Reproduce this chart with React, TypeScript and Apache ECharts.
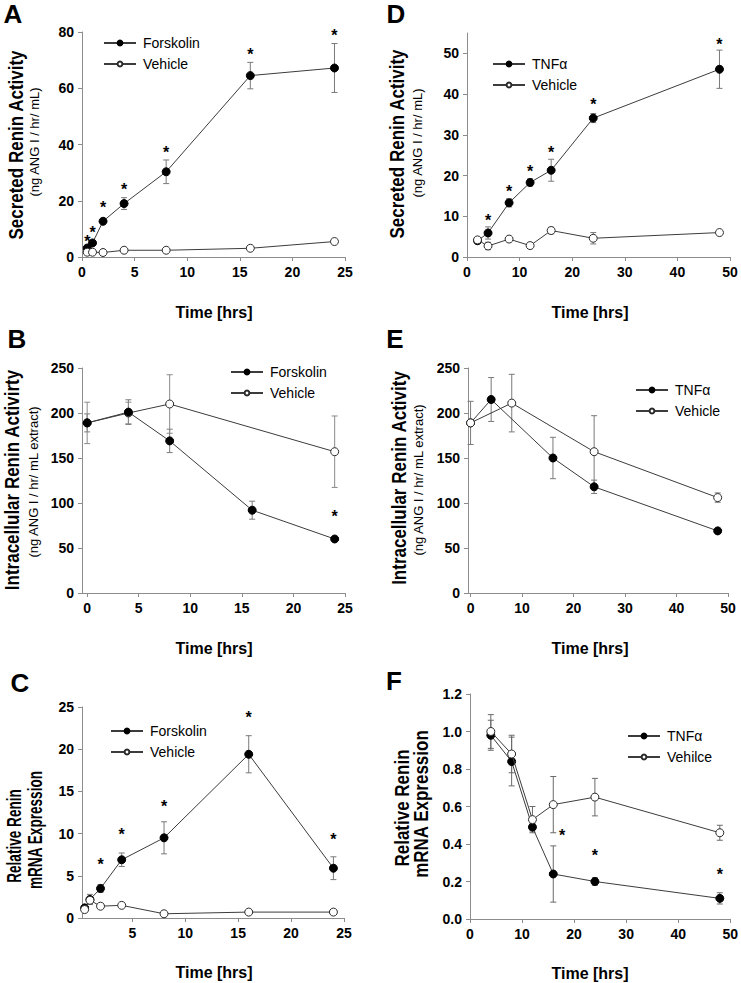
import React, { useEffect, useRef } from "react";
import * as echarts from "echarts";

const FONT = "'Liberation Sans', Arial, Helvetica, sans-serif";

// ---------- Panel A: secreted renin activity, forskolin ----------
const timeA = [0.5, 1, 2, 4, 8, 16, 24];
const forskolinA = [3.2, 5.0, 12.7, 19.0, 30.3, 64.5, 67.2];
const forskolinAErr = [0.5, 0.6, 0.7, 2.1, 4.2, 4.7, 8.7];
const vehicleA = [1.7, 1.7, 1.6, 2.4, 2.4, 3.1, 5.5];
const vehicleAErr = [0.2, 0.2, 0.2, 0.3, 0.3, 0.3, 0.5];
const starXA = [0.5, 1, 2, 4, 8, 16, 24];
const starYA = [6.5, 9.7, 18.5, 25.2, 38.3, 73.2, 80];

// ---------- Panel D: secreted renin activity, TNFα ----------
const timeD = [2, 4, 8, 12, 16, 24, 48];
const tnfD = [4.0, 5.9, 13.3, 18.3, 21.3, 34.1, 46.1];
const tnfDErr = [0.4, 1.5, 1.0, 0.9, 2.7, 1.1, 4.7];
const vehicleD = [4.2, 2.7, 4.4, 2.8, 6.5, 4.6, 6.0];
const vehicleDErr = [0.4, 0.9, 0.3, 0.4, 0.8, 1.4, 0.4];
const starXD = [4, 8, 12, 16, 24, 48];
const starYD = [9.6, 16.7, 21.8, 26.5, 38.1, 52.8];

// ---------- Panel B: intracellular renin activity, forskolin ----------
const timeB = [0, 4, 8, 16, 24];
const forskolinB = [189, 201, 169, 92, 60];
const forskolinBErr = [10, 13.7, 13, 10, 2];
const timeBV = [0, 4, 8, 24];
const vehicleB = [189, 200, 210, 157];
const vehicleBErr = [23, 12, 32.5, 39.7];
const starXB = [24];
const starYB = [88];

// ---------- Panel E: intracellular renin activity, TNFα ----------
const timeE = [0, 4, 16, 24, 48];
const tnfE = [189, 215, 150, 118, 69];
const tnfEErr = [0, 24.4, 23, 7.4, 3];
const timeEV = [0, 8, 24, 48];
const vehicleE = [189, 211, 157, 106];
const vehicleEErr = [24, 32, 40, 5.2];

// ---------- Panel C: relative renin mRNA, forskolin ----------
const timeC = [0.5, 1, 2, 4, 8, 16, 24];
const forskolinC = [1.2, 2.2, 3.5, 6.9, 9.5, 19.4, 5.9];
const forskolinCErr = [0.2, 0.6, 0.45, 0.8, 1.9, 2.2, 1.35];
const vehicleC = [1.0, 2.1, 1.4, 1.5, 0.5, 0.7, 0.7];
const vehicleCErr = [0.2, 0.4, 0.1, 0.1, 0.1, 0.1, 0.1];
const starXC = [2, 4, 8, 16, 24];
const starYC = [6.7, 10.2, 13.6, 24.1, 9.6];

// ---------- Panel F: relative renin mRNA, TNFα ----------
const timeF = [4, 8, 12, 16, 24, 48];
const tnfF = [0.98, 0.84, 0.49, 0.24, 0.2, 0.11];
const tnfFErr = [0.08, 0.13, 0.02, 0.15, 0.02, 0.03];
const vehicleF = [1.0, 0.88, 0.53, 0.61, 0.65, 0.46];
const vehicleFErr = [0.09, 0.1, 0.07, 0.15, 0.1, 0.04];
const starXF = [17.7, 24, 48];
const starYF = [0.46, 0.354, 0.256];

// ---------- tick labels ----------
const ticks25 = [0, 5, 10, 15, 20, 25];
const ticks25NoZero = [5, 10, 15, 20, 25];
const ticks50 = [0, 10, 20, 30, 40, 50];

const pairs = (xs: number[], ys: number[]) => xs.map((x, i) => [x, ys[i]]);
const triples = (xs: number[], ys: number[], es: number[]) =>
  xs.map((x, i) => [x, ys[i], es[i]]);

function lineSeries(name: string, xs: number[], ys: number[], idx: number, filled: boolean, z: number) {
  return {
    type: "line",
    name,
    xAxisIndex: idx,
    yAxisIndex: idx,
    data: pairs(xs, ys),
    symbol: "circle",
    symbolSize: 8,
    showSymbol: true,
    lineStyle: { color: "#3c3c3c", width: 1 },
    itemStyle: filled
      ? { color: "#000", borderColor: "#000", borderWidth: 1 }
      : { color: "#fff", borderColor: "#2a2a2a", borderWidth: 1 },
    z,
    silent: true,
    emphasis: { disabled: true },
  };
}

function errSeries(xs: number[], ys: number[], es: number[], idx: number, color: string) {
  return {
    type: "custom",
    xAxisIndex: idx,
    yAxisIndex: idx,
    data: triples(xs, ys, es),
    encode: { x: 0, y: 1 },
    z: 1,
    silent: true,
    renderItem: (params: any, api: any) => {
      const x = api.value(0);
      const y = api.value(1);
      const e = api.value(2);
      if (!e) return { type: "group", children: [] };
      const t = api.coord([x, y + e]);
      const b = api.coord([x, y - e]);
      const hw = 3;
      const st = { stroke: color, lineWidth: 1 };
      return {
        type: "group",
        children: [
          { type: "line", shape: { x1: t[0], y1: t[1], x2: b[0], y2: b[1] }, style: st },
          { type: "line", shape: { x1: t[0] - hw, y1: t[1], x2: t[0] + hw, y2: t[1] }, style: st },
          { type: "line", shape: { x1: b[0] - hw, y1: b[1], x2: b[0] + hw, y2: b[1] }, style: st },
        ],
      };
    },
  };
}

function starSeries(xs: number[], ys: number[], idx: number) {
  return {
    type: "custom",
    xAxisIndex: idx,
    yAxisIndex: idx,
    data: pairs(xs, ys),
    encode: { x: 0, y: 1 },
    z: 5,
    silent: true,
    renderItem: (params: any, api: any) => {
      const p = api.coord([api.value(0), api.value(1)]);
      return {
        type: "text",
        x: p[0],
        y: p[1] + 3,
        style: {
          text: "*",
          fill: "#000",
          fontSize: 16,
          fontWeight: "bold",
          fontFamily: FONT,
          align: "center",
          verticalAlign: "middle",
          textAlign: "center",
          textVerticalAlign: "middle",
        },
      };
    },
  };
}

const axisLineStyle = { color: "#8c8c8c", width: 1 };
const labelStyle = { color: "#000", fontSize: 14, fontWeight: "bold", fontFamily: FONT, margin: 8 };

function xAxis(idx: number, min: number, max: number, interval: number, custom?: number[]) {
  return {
    type: "value",
    gridIndex: idx,
    min,
    max,
    interval,
    axisLine: { show: true, onZero: false, lineStyle: axisLineStyle },
    axisTick: { show: true, length: 4, lineStyle: axisLineStyle, ...(custom ? { customValues: custom } : {}) },
    axisLabel: { ...labelStyle, ...(custom ? { customValues: custom } : {}) },
    splitLine: { show: false },
  };
}

function yAxis(idx: number, min: number, max: number, interval: number, custom?: number[], fmt?: (v: number) => string) {
  return {
    type: "value",
    gridIndex: idx,
    min,
    max,
    interval,
    axisLine: { show: true, onZero: false, lineStyle: axisLineStyle },
    axisTick: { show: true, length: 4, lineStyle: axisLineStyle, ...(custom ? { customValues: custom } : {}) },
    axisLabel: { ...labelStyle, ...(custom ? { customValues: custom } : {}), ...(fmt ? { formatter: fmt } : {}) },
    splitLine: { show: false },
  };
}

function legend(names: string[], left: number, top: number) {
  return {
    data: names,
    orient: "vertical",
    left,
    top,
    padding: 0,
    itemGap: 7,
    itemWidth: 32,
    itemHeight: 6,
    selectedMode: false,
    textStyle: { color: "#000", fontSize: 14, fontFamily: FONT, padding: [0, 0, 0, 2] },
  };
}

function txt(text: string, x: number, y: number, size: number, bold: boolean, rotate = false, sx = 1, sy = 1) {
  return {
    type: "text",
    x,
    y,
    rotation: rotate ? Math.PI / 2 : 0,
    scaleX: sx,
    scaleY: sy,
    silent: true,
    style: {
      text,
      fill: "#000",
      fontSize: size,
      fontWeight: bold ? "bold" : "normal",
      fontFamily: FONT,
      align: "center",
      verticalAlign: "middle",
      textAlign: "center",
      textVerticalAlign: "middle",
    },
  };
}

export default function App() {
  const ref = useRef<HTMLDivElement>(null);
  useEffect(() => {
    if (!ref.current) return;
    const chart = echarts.init(ref.current, undefined, { renderer: "svg" });
    const option: any = {
      animation: false,
      backgroundColor: "#fff",
      textStyle: { fontFamily: FONT },
      grid: [
        { left: 82, top: 32, width: 263, height: 225 }, // A
        { left: 467, top: 33, width: 263, height: 224 }, // D
        { left: 82, top: 368, width: 263, height: 225 }, // B
        { left: 468, top: 368, width: 260, height: 225 }, // E
        { left: 82, top: 707, width: 262, height: 211 }, // C
        { left: 470, top: 694, width: 262, height: 225 }, // F
      ],
      xAxis: [
        xAxis(0, 0, 25, 5),
        xAxis(1, 0, 50, 10),
        xAxis(2, -0.5, 25, 5, ticks25),
        xAxis(3, -0.5, 50, 10, ticks50),
        xAxis(4, 0.25, 25, 5, ticks25NoZero),
        xAxis(5, 0, 50, 10),
      ],
      yAxis: [
        yAxis(0, 0, 80, 20),
        yAxis(1, 0, 55, 10, ticks50),
        yAxis(2, 0, 250, 50),
        yAxis(3, 0, 250, 50),
        yAxis(4, 0, 25, 5),
        yAxis(5, 0, 1.2, 0.2, undefined, (v: number) => v.toFixed(1)),
      ],
      legend: [
        legend(["Forskolin", "Vehicle"], 103, 36),
        legend(["TNFα", "Vehicle"], 492, 57),
        legend(["Forskolin", "Vehicle"], 230, 365),
        legend(["TNFα", "Vehicle"], 635, 383),
        legend(["Forskolin", "Vehicle"], 110, 724),
        legend(["TNFα", "Vehilce"], 627, 729),
      ],
      series: [
        // A
        errSeries(timeA, forskolinA, forskolinAErr, 0, "#7a7a7a"),
        errSeries(timeA, vehicleA, vehicleAErr, 0, "#7a7a7a"),
        lineSeries("Forskolin", timeA, forskolinA, 0, true, 3),
        lineSeries("Vehicle", timeA, vehicleA, 0, false, 4),
        starSeries(starXA, starYA, 0),
        // D
        errSeries(timeD, tnfD, tnfDErr, 1, "#7a7a7a"),
        errSeries(timeD, vehicleD, vehicleDErr, 1, "#7a7a7a"),
        lineSeries("TNFα", timeD, tnfD, 1, true, 3),
        lineSeries("Vehicle", timeD, vehicleD, 1, false, 4),
        starSeries(starXD, starYD, 1),
        // B
        errSeries(timeB, forskolinB, forskolinBErr, 2, "#7a7a7a"),
        errSeries(timeBV, vehicleB, vehicleBErr, 2, "#8a8a8a"),
        lineSeries("Vehicle", timeBV, vehicleB, 2, false, 3),
        lineSeries("Forskolin", timeB, forskolinB, 2, true, 4),
        starSeries(starXB, starYB, 2),
        // E
        errSeries(timeE, tnfE, tnfEErr, 3, "#7a7a7a"),
        errSeries(timeEV, vehicleE, vehicleEErr, 3, "#7a7a7a"),
        lineSeries("TNFα", timeE, tnfE, 3, true, 3),
        lineSeries("Vehicle", timeEV, vehicleE, 3, false, 4),
        // C
        errSeries(timeC, forskolinC, forskolinCErr, 4, "#7a7a7a"),
        errSeries(timeC, vehicleC, vehicleCErr, 4, "#7a7a7a"),
        lineSeries("Forskolin", timeC, forskolinC, 4, true, 3),
        lineSeries("Vehicle", timeC, vehicleC, 4, false, 4),
        starSeries(starXC, starYC, 4),
        // F
        errSeries(timeF, tnfF, tnfFErr, 5, "#6a6a6a"),
        errSeries(timeF, vehicleF, vehicleFErr, 5, "#6a6a6a"),
        lineSeries("TNFα", timeF, tnfF, 5, true, 3),
        lineSeries("Vehilce", timeF, vehicleF, 5, false, 4),
        starSeries(starXF, starYF, 5),
      ],
      graphic: [
        // panel letters
        txt("A", 13, 14, 26, true),
        txt("D", 396, 14, 26, true),
        txt("B", 17, 339, 26, true),
        txt("E", 395, 339, 26, true),
        txt("C", 20, 683, 26, true),
        txt("F", 394, 681, 26, true),
        // y-axis titles
        txt("Secreted Renin Activity", 16, 145, 17, true, true, 1, 1.2),
        txt("(ng ANG I / hr/ mL)", 34, 142, 13, false, true),
        txt("Secreted Renin Activity", 397, 144, 17, true, true, 1, 1.2),
        txt("(ng ANG I / hr/ mL)", 417, 143, 13, false, true),
        txt("Intracellular Renin Activirty", 12, 480, 17, true, true, 1, 1.2),
        txt("(ng ANG I / hr/ mL extract)", 33, 482, 13, false, true),
        txt("Intracellular Renin Activity", 399, 478, 17, true, true, 1, 1.2),
        txt("(ng ANG I / hr/ mL extract)", 418, 480, 13, false, true),
        txt("Relative Renin", 14, 836, 17, true, true, 0.8, 1.2),
        txt("mRNA Expression", 35, 830, 17, true, true, 0.8, 1.2),
        txt("Relative Renin", 402, 808, 17, true, true, 1, 1.2),
        txt("mRNA Expression", 421, 804, 17, true, true, 1, 1.2),
        // x-axis titles
        txt("Time [hrs]", 214, 312, 16, true),
        txt("Time [hrs]", 590, 312, 16, true),
        txt("Time [hrs]", 214, 648, 16, true),
        txt("Time [hrs]", 590, 648, 16, true),
        txt("Time [hrs]", 214, 972, 16, true),
        txt("Time [hrs]", 590, 973, 16, true),
      ],
    };
    chart.setOption(option);
    return () => chart.dispose();
  }, []);
  return (
    <div
      ref={ref}
      style={{ position: "absolute", left: 0, top: 0, width: 741, height: 983, background: "#fff" }}
    />
  );
}
